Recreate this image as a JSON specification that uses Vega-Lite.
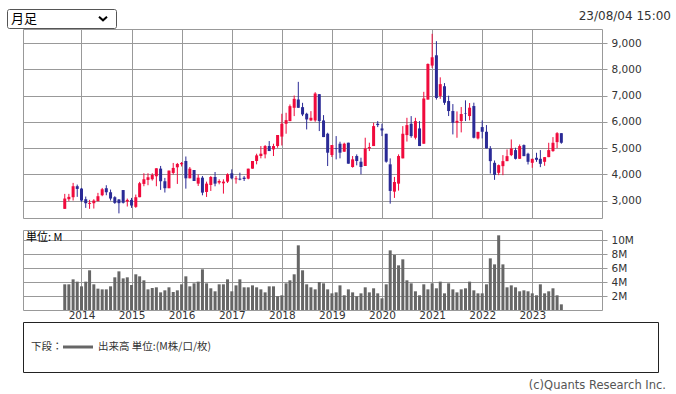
{
  "$schema": "https://vega.github.io/schema/vega-lite/v6.json",
  "background": "white",
  "padding": {"left": 6, "top": 8, "right": 4, "bottom": 4},
  "bounds": "flush",
  "spacing": 1,
  "config": {
    "font": "DejaVu Sans",
    "view": {"stroke": "#999999"},
    "axis": {"labelFont": "DejaVu Sans", "labelFontSize": 10.5, "labelColor": "#333333", "gridColor": "#999999", "gridWidth": 1, "title": null}
  },
  "datasets": {
    "px": [
      {"d":"2013-09-01","o":2683,"h":3254,"l":2683,"c":3076,"v":3.67},
      {"d":"2013-10-01","o":3051,"h":3254,"l":2975,"c":3140,"v":3.67},
      {"d":"2013-11-01","o":3127,"h":3673,"l":3000,"c":3546,"v":4.38},
      {"d":"2013-12-01","o":3546,"h":3609,"l":3140,"c":3444,"v":4.05},
      {"d":"2014-01-01","o":3457,"h":3482,"l":2949,"c":3000,"v":3.38},
      {"d":"2014-02-01","o":3051,"h":3152,"l":2720,"c":2898,"v":4.05},
      {"d":"2014-03-01","o":2873,"h":3025,"l":2683,"c":2911,"v":5.67},
      {"d":"2014-04-01","o":2898,"h":3051,"l":2695,"c":3000,"v":3.67},
      {"d":"2014-05-01","o":2975,"h":3292,"l":2975,"c":3165,"v":3.05},
      {"d":"2014-06-01","o":3203,"h":3482,"l":3165,"c":3431,"v":2.95},
      {"d":"2014-07-01","o":3470,"h":3584,"l":3203,"c":3317,"v":2.95},
      {"d":"2014-08-01","o":3317,"h":3419,"l":3000,"c":3076,"v":3.38},
      {"d":"2014-09-01","o":3127,"h":3165,"l":2873,"c":2911,"v":4.67},
      {"d":"2014-10-01","o":3040,"h":3055,"l":2510,"c":2900,"v":5.52},
      {"d":"2014-11-01","o":3400,"h":3400,"l":2886,"c":2915,"v":4.52},
      {"d":"2014-12-01","o":2962,"h":3076,"l":2772,"c":3025,"v":4.67},
      {"d":"2015-01-01","o":3025,"h":3101,"l":2720,"c":2810,"v":3.57},
      {"d":"2015-02-01","o":2759,"h":3228,"l":2720,"c":3127,"v":5.10},
      {"d":"2015-03-01","o":3127,"h":3711,"l":3127,"c":3660,"v":4.81},
      {"d":"2015-04-01","o":3634,"h":4041,"l":3546,"c":3812,"v":4.24},
      {"d":"2015-05-01","o":3787,"h":4041,"l":3584,"c":3888,"v":2.95},
      {"d":"2015-06-01","o":3812,"h":4041,"l":3761,"c":3977,"v":3.14},
      {"d":"2015-07-01","o":3926,"h":4231,"l":3546,"c":4231,"v":3.24},
      {"d":"2015-08-01","o":4218,"h":4320,"l":3406,"c":3736,"v":2.52},
      {"d":"2015-09-01","o":3736,"h":3863,"l":3305,"c":3470,"v":2.81},
      {"d":"2015-10-01","o":3470,"h":4142,"l":3470,"c":4142,"v":3.24},
      {"d":"2015-11-01","o":4053,"h":4434,"l":3990,"c":4244,"v":2.57},
      {"d":"2015-12-01","o":4269,"h":4434,"l":3634,"c":4396,"v":2.81},
      {"d":"2016-01-01","o":4383,"h":4470,"l":4300,"c":4434,"v":3.67},
      {"d":"2016-02-01","o":4508,"h":4680,"l":3454,"c":3848,"v":4.81},
      {"d":"2016-03-01","o":3848,"h":4279,"l":3848,"c":4216,"v":3.38},
      {"d":"2016-04-01","o":4165,"h":4165,"l":3746,"c":3746,"v":3.81},
      {"d":"2016-05-01","o":3645,"h":4000,"l":3556,"c":3873,"v":4.05},
      {"d":"2016-06-01","o":3873,"h":3937,"l":3200,"c":3302,"v":5.81},
      {"d":"2016-07-01","o":3327,"h":3721,"l":3137,"c":3645,"v":3.81},
      {"d":"2016-08-01","o":3594,"h":3937,"l":3365,"c":3898,"v":3.10},
      {"d":"2016-09-01","o":3898,"h":4089,"l":3543,"c":3645,"v":2.67},
      {"d":"2016-10-01","o":3683,"h":3810,"l":3619,"c":3746,"v":3.67},
      {"d":"2016-11-01","o":3657,"h":3810,"l":3264,"c":3721,"v":3.67},
      {"d":"2016-12-01","o":3721,"h":4038,"l":3670,"c":4000,"v":4.38},
      {"d":"2017-01-01","o":4038,"h":4190,"l":3810,"c":3848,"v":2.67},
      {"d":"2017-02-01","o":3810,"h":3937,"l":3645,"c":3848,"v":3.52},
      {"d":"2017-03-01","o":3835,"h":4063,"l":3772,"c":3797,"v":4.38},
      {"d":"2017-04-01","o":3873,"h":3937,"l":3746,"c":3822,"v":3.24},
      {"d":"2017-05-01","o":3835,"h":4216,"l":3810,"c":4216,"v":3.24},
      {"d":"2017-06-01","o":4216,"h":4508,"l":4216,"c":4508,"v":3.52},
      {"d":"2017-07-01","o":4508,"h":4787,"l":4381,"c":4723,"v":3.24},
      {"d":"2017-08-01","o":4698,"h":5079,"l":4609,"c":4787,"v":2.95},
      {"d":"2017-09-01","o":4761,"h":5117,"l":4609,"c":5079,"v":2.52},
      {"d":"2017-10-01","o":5079,"h":5269,"l":4888,"c":4888,"v":3.38},
      {"d":"2017-11-01","o":4952,"h":5167,"l":4698,"c":5079,"v":3.38},
      {"d":"2017-12-01","o":5079,"h":5497,"l":5015,"c":5497,"v":1.95},
      {"d":"2018-01-01","o":5440,"h":6310,"l":5100,"c":5929,"v":2.10},
      {"d":"2018-02-01","o":5929,"h":6348,"l":5548,"c":6068,"v":3.81},
      {"d":"2018-03-01","o":6030,"h":6665,"l":6030,"c":6601,"v":4.24},
      {"d":"2018-04-01","o":6538,"h":7007,"l":6221,"c":6880,"v":5.10},
      {"d":"2018-05-01","o":6855,"h":7528,"l":6538,"c":6538,"v":9.24},
      {"d":"2018-06-01","o":6563,"h":6728,"l":6221,"c":6284,"v":5.67},
      {"d":"2018-07-01","o":6310,"h":6348,"l":5713,"c":6094,"v":3.67},
      {"d":"2018-08-01","o":6056,"h":6411,"l":6030,"c":6157,"v":3.24},
      {"d":"2018-09-01","o":6056,"h":7134,"l":6005,"c":7083,"v":2.95},
      {"d":"2018-10-01","o":7058,"h":7058,"l":5650,"c":6030,"v":4.00},
      {"d":"2018-11-01","o":6056,"h":6259,"l":5421,"c":5421,"v":3.81},
      {"d":"2018-12-01","o":5548,"h":5586,"l":4317,"c":4825,"v":2.95},
      {"d":"2019-01-01","o":4736,"h":5117,"l":4660,"c":5117,"v":2.38},
      {"d":"2019-02-01","o":4990,"h":5459,"l":4571,"c":4964,"v":2.52},
      {"d":"2019-03-01","o":5167,"h":5244,"l":4609,"c":4825,"v":3.52},
      {"d":"2019-04-01","o":4863,"h":5206,"l":4863,"c":5167,"v":2.10},
      {"d":"2019-05-01","o":5206,"h":5206,"l":4406,"c":4406,"v":2.95},
      {"d":"2019-06-01","o":4279,"h":4698,"l":4254,"c":4571,"v":2.52},
      {"d":"2019-07-01","o":4698,"h":4761,"l":4343,"c":4508,"v":1.95},
      {"d":"2019-08-01","o":4482,"h":4634,"l":4000,"c":4279,"v":2.38},
      {"d":"2019-09-01","o":4317,"h":5396,"l":4317,"c":4990,"v":3.24},
      {"d":"2019-10-01","o":4990,"h":5206,"l":4888,"c":5041,"v":2.52},
      {"d":"2019-11-01","o":5079,"h":5967,"l":5079,"c":5840,"v":3.10},
      {"d":"2019-12-01","o":5929,"h":6030,"l":5802,"c":5878,"v":2.38},
      {"d":"2020-01-01","o":5751,"h":5929,"l":5459,"c":5675,"v":1.67},
      {"d":"2020-02-01","o":5548,"h":5548,"l":4444,"c":4482,"v":3.67},
      {"d":"2020-03-01","o":4381,"h":4609,"l":2880,"c":3366,"v":8.52},
      {"d":"2020-04-01","o":3340,"h":3900,"l":3100,"c":3708,"v":7.86},
      {"d":"2020-05-01","o":3645,"h":4761,"l":3380,"c":4698,"v":6.38},
      {"d":"2020-06-01","o":4609,"h":5840,"l":4609,"c":5548,"v":7.24},
      {"d":"2020-07-01","o":5497,"h":6157,"l":5250,"c":5878,"v":4.24},
      {"d":"2020-08-01","o":5929,"h":6221,"l":5396,"c":5459,"v":3.81},
      {"d":"2020-09-01","o":5396,"h":6157,"l":5332,"c":6030,"v":2.67},
      {"d":"2020-10-01","o":5751,"h":6030,"l":5079,"c":5079,"v":2.10},
      {"d":"2020-11-01","o":5167,"h":7147,"l":5167,"c":6893,"v":3.67},
      {"d":"2020-12-01","o":6851,"h":8230,"l":6851,"c":8211,"v":2.95},
      {"d":"2021-01-01","o":8148,"h":9360,"l":8059,"c":8465,"v":3.81},
      {"d":"2021-02-01","o":8541,"h":9080,"l":6851,"c":6914,"v":3.10},
      {"d":"2021-03-01","o":6990,"h":7700,"l":6880,"c":7440,"v":4.05},
      {"d":"2021-04-01","o":7360,"h":7480,"l":6650,"c":6730,"v":2.38},
      {"d":"2021-05-01","o":6796,"h":7000,"l":6223,"c":6414,"v":3.81},
      {"d":"2021-06-01","o":6414,"h":6680,"l":5522,"c":5968,"v":2.95},
      {"d":"2021-07-01","o":5968,"h":6400,"l":5395,"c":6040,"v":2.52},
      {"d":"2021-08-01","o":6032,"h":6567,"l":5600,"c":6300,"v":2.95},
      {"d":"2021-09-01","o":6330,"h":6822,"l":6032,"c":6312,"v":3.10},
      {"d":"2021-10-01","o":6223,"h":6720,"l":6058,"c":6542,"v":4.05},
      {"d":"2021-11-01","o":6605,"h":6733,"l":5370,"c":5395,"v":2.81},
      {"d":"2021-12-01","o":5370,"h":5620,"l":5331,"c":5620,"v":2.38},
      {"d":"2022-01-01","o":5803,"h":6058,"l":5370,"c":5624,"v":2.38},
      {"d":"2022-02-01","o":5624,"h":5879,"l":4987,"c":4987,"v":3.67},
      {"d":"2022-03-01","o":4987,"h":5077,"l":4030,"c":4503,"v":7.38},
      {"d":"2022-04-01","o":4440,"h":4529,"l":3790,"c":3980,"v":6.52},
      {"d":"2022-05-01","o":4057,"h":4376,"l":3968,"c":4350,"v":10.67},
      {"d":"2022-06-01","o":4312,"h":4733,"l":3968,"c":4503,"v":6.52},
      {"d":"2022-07-01","o":4503,"h":4949,"l":4503,"c":4694,"v":3.24},
      {"d":"2022-08-01","o":4733,"h":5331,"l":4694,"c":4987,"v":3.52},
      {"d":"2022-09-01","o":4924,"h":5013,"l":4567,"c":4592,"v":3.24},
      {"d":"2022-10-01","o":4592,"h":5140,"l":4592,"c":5077,"v":2.67},
      {"d":"2022-11-01","o":5115,"h":5140,"l":4694,"c":4694,"v":2.81},
      {"d":"2022-12-01","o":4784,"h":4822,"l":4376,"c":4478,"v":2.67},
      {"d":"2023-01-01","o":4440,"h":4592,"l":4249,"c":4592,"v":2.38},
      {"d":"2023-02-01","o":4631,"h":4822,"l":4478,"c":4554,"v":2.10},
      {"d":"2023-03-01","o":4592,"h":4924,"l":4274,"c":4401,"v":3.67},
      {"d":"2023-04-01","o":4478,"h":4656,"l":4325,"c":4656,"v":2.38},
      {"d":"2023-05-01","o":4656,"h":5204,"l":4656,"c":4924,"v":2.67},
      {"d":"2023-06-01","o":4886,"h":5420,"l":4860,"c":5204,"v":3.10},
      {"d":"2023-07-01","o":5229,"h":5610,"l":5000,"c":5570,"v":2.10},
      {"d":"2023-08-01","o":5570,"h":5570,"l":5166,"c":5204,"v":0.81}
    ]
  },
  "vconcat": [
    {
      "width": 109,
      "height": 19,
      "view": {"stroke": "#555555", "cornerRadius": 2},
      "data": {"values": [{"k": "l", "t": "月足"}, {"k": "r", "t": ""}]},
      "layer": [
        {
          "transform": [{"filter": "datum.k === 'l'"}],
          "mark": {"type": "text", "align": "left", "baseline": "middle", "font": "Noto Sans CJK JP", "fontSize": 13, "color": "#000000"},
          "encoding": {
            "x": {"field": "k", "type": "nominal", "scale": {"type": "point", "domain": ["l", "r"], "range": [4, 96], "padding": 0}, "axis": null},
            "text": {"field": "t"}
          }
        },
        {
          "transform": [{"filter": "datum.k === 'r'"}],
          "mark": {"type": "point", "shape": "M-1,-0.45L0,0.45L1,-0.45", "size": 64, "strokeWidth": 2, "filled": false, "color": "#000000", "opacity": 1},
          "encoding": {
            "x": {"field": "k", "type": "nominal", "scale": {"type": "point", "domain": ["l", "r"], "range": [4, 96], "padding": 0}, "axis": null}
          }
        }
      ]
    },
    {
      "hconcat": [
        {"width": 1, "height": 1, "view": {"stroke": null}, "data": {"values": []}, "mark": "rect", "encoding": {}},
        {
          "vconcat": [
            {
              "data": {"name": "px"},
              "width": 579,
              "height": 189,
              "title": {"text": "23/08/04 15:00", "orient": "top", "anchor": "end", "frame": "group", "offset": 1, "dx": 69, "baseline": "middle", "font": "DejaVu Sans", "fontSize": 12, "fontWeight": "normal", "color": "#333333"},
              "encoding": {
                "x": {
                  "field": "d", "type": "temporal",
                  "scale": {"type": "utc", "domain": [{"year": 2012, "month": 12, "date": 7, "utc": true}, {"year": 2024, "month": 4, "date": 17, "utc": true}]},
                  "axis": {"labels": false, "ticks": false, "domain": false, "grid": true,
                    "values": [{"year": 2014, "utc": true}, {"year": 2015, "utc": true}, {"year": 2016, "utc": true}, {"year": 2017, "utc": true}, {"year": 2018, "utc": true}, {"year": 2019, "utc": true}, {"year": 2020, "utc": true}, {"year": 2021, "utc": true}, {"year": 2022, "utc": true}, {"year": 2023, "utc": true}]}
                }
              },
              "layer": [
                {
                  "mark": {"type": "rule", "strokeWidth": 1},
                  "encoding": {
                    "y": {"field": "l", "type": "quantitative", "scale": {"domain": [2334, 9544], "nice": false, "zero": false},
                      "axis": {"orient": "right", "values": [3000, 4000, 5000, 6000, 7000, 8000, 9000], "format": ",d", "labelOverlap": false, "grid": true, "ticks": true, "tickColor": "#999999", "tickSize": 5, "domain": false, "labelPadding": 4}},
                    "y2": {"field": "h"},
                    "color": {"condition": {"test": "datum.c >= datum.o", "value": "#f00a3c"}, "value": "#2a2a96"}
                  }
                },
                {
                  "mark": {"type": "bar", "size": 3},
                  "encoding": {
                    "y": {"field": "o", "type": "quantitative", "scale": {"domain": [2334, 9544], "nice": false, "zero": false},
                      "axis": {"orient": "right", "values": [3000, 4000, 5000, 6000, 7000, 8000, 9000], "format": ",d", "labelOverlap": false, "grid": true, "ticks": true, "tickColor": "#999999", "tickSize": 5, "domain": false, "labelPadding": 4}},
                    "y2": {"field": "c"},
                    "color": {"condition": {"test": "datum.c >= datum.o", "value": "#f00a3c"}, "value": "#2a2a96"}
                  }
                }
              ]
            },
            {
              "data": {"name": "px"},
              "width": 579,
              "height": 80,
              "title": {"text": "単位: M", "orient": "top", "anchor": "start", "frame": "group", "offset": -19, "dx": 3, "baseline": "middle", "font": "Noto Sans CJK JP", "fontSize": 11, "fontWeight": "normal", "color": "#000000"},
              "mark": {"type": "bar", "size": 3},
              "encoding": {
                "x": {
                  "field": "d", "type": "temporal",
                  "scale": {"type": "utc", "domain": [{"year": 2012, "month": 12, "date": 7, "utc": true}, {"year": 2024, "month": 4, "date": 17, "utc": true}]},
                  "axis": {"format": "%Y", "grid": true, "ticks": false, "domain": false, "labelPadding": 0,
                    "values": [{"year": 2014, "utc": true}, {"year": 2015, "utc": true}, {"year": 2016, "utc": true}, {"year": 2017, "utc": true}, {"year": 2018, "utc": true}, {"year": 2019, "utc": true}, {"year": 2020, "utc": true}, {"year": 2021, "utc": true}, {"year": 2022, "utc": true}, {"year": 2023, "utc": true}]}
                },
                "y": {"field": "v", "type": "quantitative", "scale": {"domain": [0, 11.43], "nice": false},
                  "axis": {"orient": "right", "values": [2, 4, 6, 8, 10], "labelExpr": "datum.value + 'M'", "labelOverlap": false, "grid": true, "ticks": true, "tickColor": "#999999", "tickSize": 5, "domain": false, "labelPadding": 4}},
                "color": {
                  "datum": "出来高 単位:(M株/口/枚)", "type": "nominal",
                  "scale": {"range": ["#666666"]},
                  "legend": {"orient": "none", "legendX": 24, "legendY": 323, "direction": "horizontal", "title": "下段：", "titleOrient": "left", "titleAnchor": "middle", "titleFont": "Noto Sans CJK JP", "titleFontSize": 10.5, "titleFontWeight": "normal", "titleColor": "#333333", "titlePadding": 0, "titleBaseline": "top",
                    "symbolType": "M-1,-0.1H1V0.1H-1Z", "symbolSize": 900, "symbolStrokeWidth": 0, "symbolOpacity": 1,
                    "labelFont": "Noto Sans CJK JP", "labelFontSize": 10.5, "labelColor": "#333333", "labelOffset": 5, "labelLimit": 300}
                }
              }
            },
            {
              "width": 635,
              "height": 50,
              "view": {"stroke": "#222222"},
              "data": {"values": []},
              "mark": "rect",
              "encoding": {},
              "title": {"text": "(c)Quants Research Inc.", "orient": "bottom", "anchor": "end", "frame": "group", "offset": 8, "dx": 8, "baseline": "top", "font": "DejaVu Sans", "fontSize": 11.5, "fontWeight": "normal", "color": "#555555"}
            }
          ],
          "spacing": 12,
          "bounds": "flush"
        }
      ],
      "spacing": 15,
      "bounds": "flush"
    }
  ]
}
